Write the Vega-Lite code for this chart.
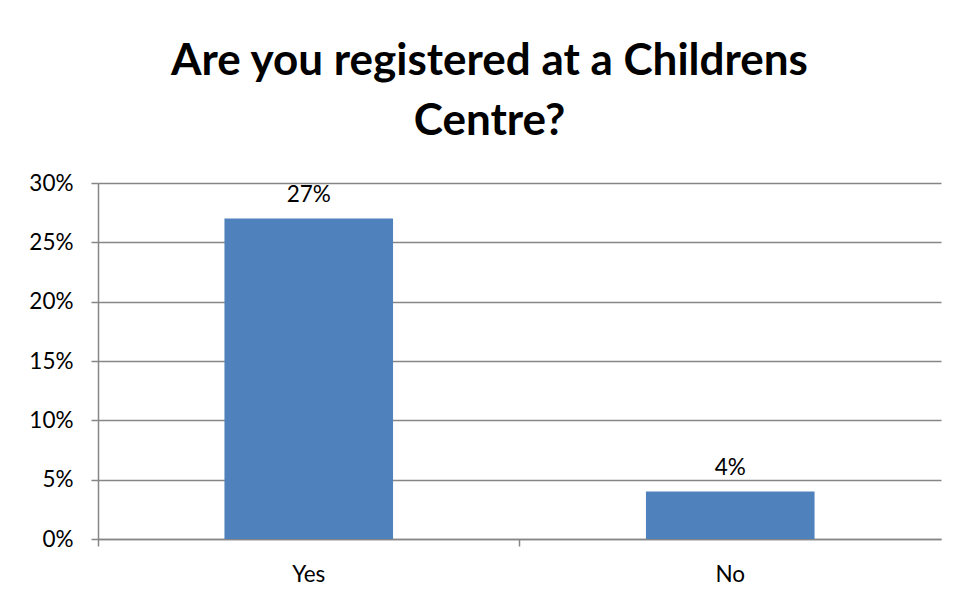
{
  "$schema": "https://vega.github.io/schema/vega-lite/v6.json",
  "autosize": "none",
  "width": 843,
  "height": 356,
  "padding": {"left": 98, "top": 183, "right": 16, "bottom": 57},
  "background": "white",
  "title": {
    "text": ["Are you registered at a Childrens", "Centre?"],
    "font": "Lato",
    "fontWeight": "bold",
    "fontSize": 44,
    "color": "black",
    "anchor": "middle",
    "dx": -30,
    "offset": -16,
    "lineHeight": 60,
    "baseline": "bottom"
  },
  "data": {"values": [
    {"answer": "Yes", "pct": 0.27},
    {"answer": "No", "pct": 0.04}
  ]},
  "config": {
    "view": {"stroke": null},
    "font": "Lato"
  },
  "resolve": {"axis": {"x": "independent"}},
  "encoding": {
    "y": {
      "field": "pct", "type": "quantitative",
      "scale": {"domain": [0, 0.3]},
      "axis": {"title": null, "format": ".0%", "values": [0, 0.05, 0.1, 0.15, 0.2, 0.25, 0.3], "labelFont": "Lato", "labelFontSize": 22.5, "labelColor": "black", "labelPadding": 18, "tickSize": 7, "tickColor": "#868686", "tickWidth": 1.5, "domainColor": "#868686", "domainWidth": 1.5, "gridColor": "#868686", "gridWidth": 1.5}
    }
  },
  "layer": [
    {"mark": {"type": "bar", "color": "#4F81BD"},
     "encoding": {
       "x": {
         "field": "answer", "type": "nominal", "sort": null,
         "scale": {"paddingInner": 0.6, "paddingOuter": 0.3},
         "axis": {"title": null, "orient": "bottom", "labelAngle": 0, "labelFont": "Lato", "labelFontSize": 22.5, "labelColor": "black", "labelPadding": 24, "ticks": false, "domainColor": "#868686", "domainWidth": 1.5}
       }
     }},
    {"mark": {"type": "text", "dy": -24, "fontSize": 22.5, "font": "Lato", "color": "black"},
     "encoding": {
       "x": {
         "field": "answer", "type": "nominal", "sort": null,
         "axis": {"title": null, "orient": "bottom", "labels": false, "domain": false, "bandPosition": -0.75, "tickSize": 7, "tickColor": "#868686", "tickWidth": 1.5}
       },
       "text": {"field": "pct", "type": "quantitative", "format": ".0%"}}}
  ]
}
